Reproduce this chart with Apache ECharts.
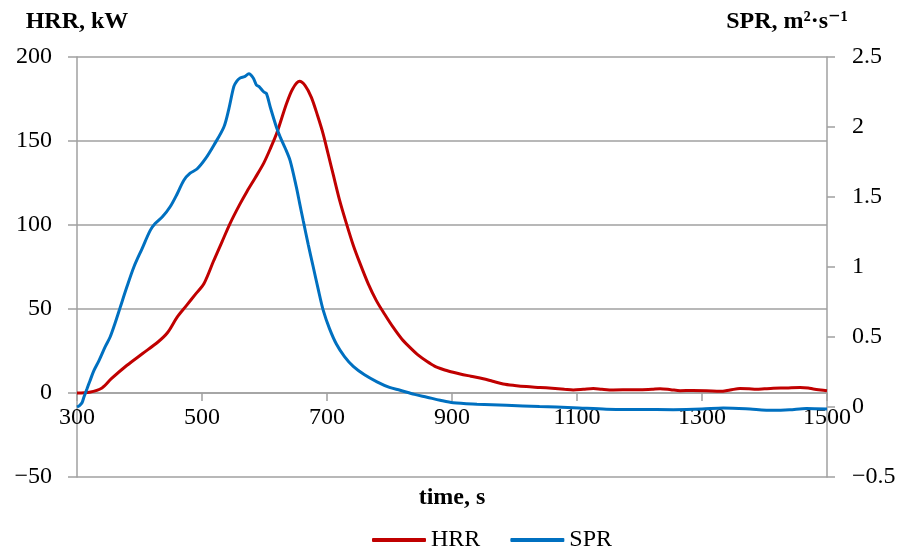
<!DOCTYPE html>
<html>
<head>
<meta charset="utf-8">
<script src="https://cdn.jsdelivr.net/npm/echarts@6/dist/echarts.min.js"></script>
<style>
html,body{margin:0;padding:0;background:#fff;}
#chart{width:897px;height:552px;}
</style>
</head>
<body>
<div id="chart"></div>
<script>
// time (s) and values
var hrrTime = [300,320,340,355,380,405,430,445,460,475,490,503,519,532,545,560,572,585,599,610,620,635,645,656,665,675,685,694,702,710,720,731,742,753,766,779,792,806,820,833,846,859,872,886,900,913,930,950,965,982,1000,1019,1041,1060,1080,1094,1110,1126,1140,1158,1180,1201,1220,1233,1250,1265,1285,1307,1329,1345,1361,1375,1387,1400,1414,1435,1457,1470,1478,1490,1500];
var hrrValues = [0,0.5,3,8.5,16.5,23.5,30.5,36,45,52,59,65,79,90,101,112,120,128,137,146,155,172,181,185.5,183,176,165,154,142,130,115,101,88,77,65,55,47,39,32,27,22.5,19,16,14,12.5,11.3,10,8.5,7,5.4,4.5,3.8,3.3,2.8,2.2,1.8,2.2,2.7,2.2,1.8,1.9,2,2.3,2.6,2,1.4,1.5,1.4,1,1.8,2.7,2.5,2.2,2.5,2.8,3,3.3,3,2.4,1.8,1.4];
var sprTime = [300,304,308,311,316,321,327,335,345,353,361,369,380,391,404,417,425,437,449,460,471,481,492,505,519,535,543,551,556,561,568,575,582,587,591,599,603,610,619,625,633,641,651,656,662,670,678,686,694,704,715,728,742,760,780,800,817,840,860,881,902,940,987,1040,1094,1147,1200,1254,1300,1334,1370,1414,1440,1467,1500];
var sprValues = [0.0,0.01,0.03,0.07,0.13,0.19,0.26,0.33,0.43,0.5,0.6,0.71,0.86,1.0,1.13,1.26,1.31,1.36,1.43,1.52,1.62,1.67,1.70,1.77,1.87,2.0,2.13,2.29,2.33,2.35,2.36,2.38,2.35,2.30,2.29,2.25,2.24,2.13,2.0,1.93,1.85,1.76,1.57,1.46,1.33,1.16,1.0,0.84,0.69,0.56,0.45,0.36,0.29,0.23,0.18,0.14,0.12,0.09,0.07,0.048,0.03,0.02,0.012,0.003,-0.005,-0.016,-0.018,-0.019,-0.015,-0.007,-0.012,-0.024,-0.02,-0.01,-0.014];

var seriesNames = ['HRR', 'SPR'];
var xName = 'time, s';
var leftName = 'HRR, kW';
var rightName = 'SPR, m\u00B2\u00B7s\u207B\u00B9';

function pairs(t, v){ return t.map(function(x,i){ return [x, v[i]]; }); }
function minus(v){ return String(v).replace('-', '\u2212'); }

var FONT = '"Liberation Serif", "DejaVu Serif", serif';
var GRAY = '#a0a0a0';
var FS = 24;

var chart = echarts.init(document.getElementById('chart'), null, {renderer:'canvas'});
chart.setOption({
  animation: false,
  backgroundColor: '#fff',
  textStyle: {fontFamily: FONT, color: '#000'},
  grid: {left: 77, right: 70, top: 57, bottom: 75, containLabel: false, outerBoundsMode: 'none'},
  legend: {
    left: 372, bottom: 0, padding: 0,
    itemWidth: 54, itemHeight: 4, itemGap: 30,
    icon: 'roundRect',
    textStyle: {fontFamily: FONT, fontSize: FS, color: '#000'},
    data: seriesNames
  },
  xAxis: {
    type: 'value', min: 300, max: 1500, interval: 200,
    offset: -84,
    name: xName, nameLocation: 'middle', nameGap: 93, nameMoveOverlap: false,
    nameTextStyle: {fontFamily: FONT, fontSize: FS, fontWeight: 'bold', color: '#000'},
    axisLine: {onZero: false, lineStyle: {color: GRAY, width: 1.5}},
    axisTick: {show: true, length: 8, lineStyle: {color: GRAY, width: 1.5}},
    axisLabel: {fontFamily: FONT, fontSize: FS, color: '#000', margin: 13, showMinLabel: true, showMaxLabel: true, formatter: minus},
    splitLine: {show: false}
  },
  yAxis: [{
    type: 'value', min: -50, max: 200, interval: 50, position: 'left',
    name: leftName, nameLocation: 'end', nameGap: 23,
    nameTextStyle: {fontFamily: FONT, fontSize: FS, fontWeight: 'bold', color: '#000'},
    axisLine: {show: true, onZero: false, lineStyle: {color: GRAY, width: 1.5}},
    axisTick: {show: true, length: 9, lineStyle: {color: GRAY, width: 1.5}},
    axisLabel: {fontFamily: FONT, fontSize: FS, color: '#000', margin: 25, formatter: minus},
    splitLine: {show: true, lineStyle: {color: GRAY, width: 1.5}}
  }, {
    type: 'value', min: -0.5, max: 2.5, interval: 0.5, position: 'right',
    name: rightName, nameLocation: 'end', nameGap: 23,
    nameTextStyle: {fontFamily: FONT, fontSize: FS, fontWeight: 'bold', color: '#000', align: 'center', padding: [0, 80, 0, 0]},
    axisLine: {show: true, onZero: false, lineStyle: {color: GRAY, width: 1.5}},
    axisTick: {show: true, length: 8, lineStyle: {color: GRAY, width: 1.5}},
    axisLabel: {fontFamily: FONT, fontSize: FS, color: '#000', margin: 25, formatter: minus},
    splitLine: {show: false}
  }],
  series: [{
    name: seriesNames[0], type: 'line', yAxisIndex: 0,
    data: pairs(hrrTime, hrrValues),
    showSymbol: false, symbol: 'none', smooth: 0.3,
    lineStyle: {color: '#c00000', width: 3},
    itemStyle: {color: '#c00000'}
  }, {
    name: seriesNames[1], type: 'line', yAxisIndex: 1,
    data: pairs(sprTime, sprValues),
    showSymbol: false, symbol: 'none', smooth: 0.3,
    lineStyle: {color: '#0070c0', width: 3},
    itemStyle: {color: '#0070c0'}
  }]
});
</script>
</body>
</html>
